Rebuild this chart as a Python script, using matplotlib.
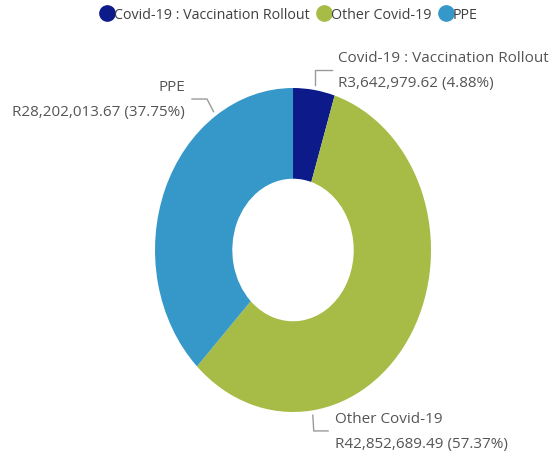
import numpy as np
import matplotlib.pyplot as plt
from matplotlib.lines import Line2D

# Data
categories = ['Covid-19 : Vaccination Rollout', 'Other Covid-19', 'PPE']
amounts = [3642979.62, 42852689.49, 28202013.67]
colors = ['#0C1A8A', '#A6BC46', '#3598C8']

# where Power BI put the label leaders (angle on the ring, degrees)
leader_angles = [81.2, -82.0, 124.0]

plt.rcParams['font.family'] = ['Open Sans', 'DejaVu Sans']

fig = plt.figure(figsize=(5.56, 4.60), dpi=100)
ax = fig.add_axes([0.2788, 0.1022, 0.4964, 0.7043])

total = sum(amounts)
wedges, _ = ax.pie(amounts, colors=colors, startangle=90, counterclock=False,
                   radius=1.0, wedgeprops=dict(width=0.56, linewidth=0))
ax.set_aspect('auto')
ax.set_xlim(-1, 1)
ax.set_ylim(-1, 1)
ax.axis('off')

# Labels with elbow leader lines
for i, (cat, amt) in enumerate(zip(categories, amounts)):
    a = np.deg2rad(leader_angles[i])
    x0, y0 = 1.03 * np.cos(a), 1.03 * np.sin(a)
    pct = amt / total * 100
    txt = f"{cat}\nR{amt:,.2f} ({pct:.2f}%)"
    if i == 0:
        pts = [(x0, y0), (x0, 1.111), (0.283, 1.111)]
        tx, ty, ha = 0.326, 1.111, 'left'
    elif i == 1:
        pts = [(x0, y0), (x0 + 0.007, -1.117), (0.254, -1.117)]
        tx, ty, ha = 0.304, -1.117, 'left'
    else:
        pts = [(x0, y0), (-0.623, 0.932), (-0.732, 0.932)]
        tx, ty, ha = -0.783, 0.932, 'right'
    xs, ys = zip(*pts)
    ax.plot(xs, ys, color='#9a9a9a', linewidth=1.0, clip_on=False)
    ax.text(tx, ty, txt, ha=ha, va='center', multialignment=ha,
            fontsize=11, color='#555555', linespacing=1.85, clip_on=False)

# Legend
handles = [Line2D([], [], marker='o', linestyle='', markersize=11,
                  markerfacecolor=c, markeredgecolor=c) for c in colors]
fig.legend(handles, categories, loc='upper center', bbox_to_anchor=(0.519, 1.01),
           ncol=3, frameon=False, fontsize=10.3, handletextpad=0.0,
           columnspacing=0.5, handlelength=1.0, labelcolor='#404040')

fig.savefig('out.png', dpi=100)
